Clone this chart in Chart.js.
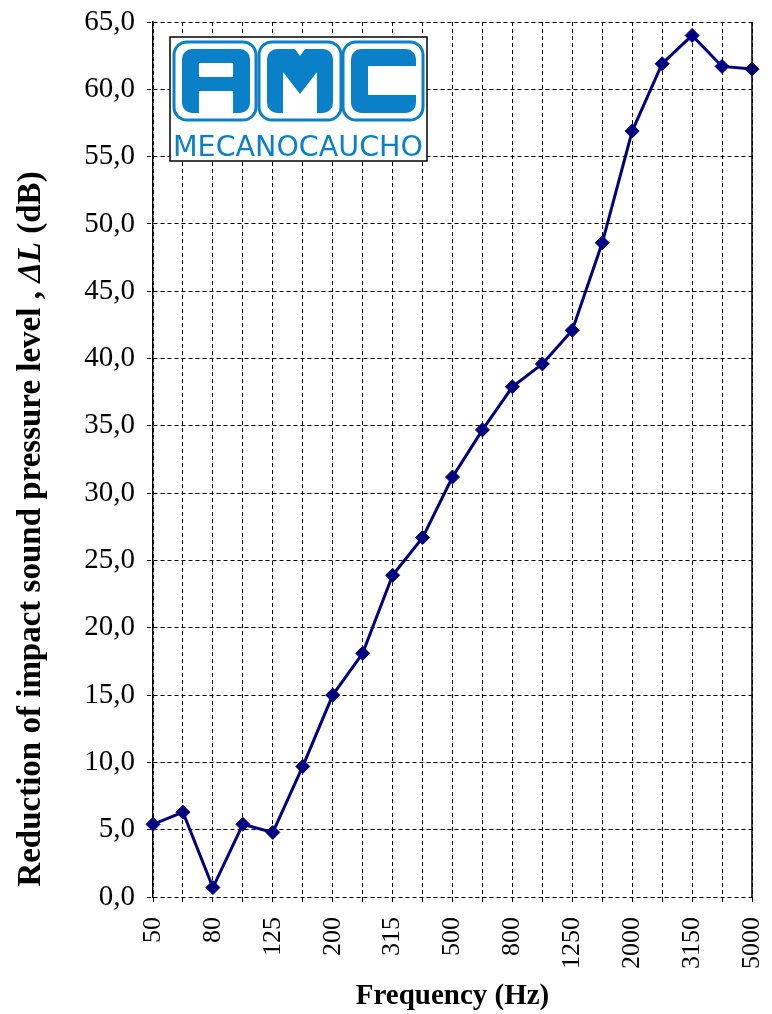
<!DOCTYPE html>
<html>
<head>
<meta charset="utf-8">
<script src="https://cdn.jsdelivr.net/npm/chart.js@4.4.1/dist/chart.umd.min.js"></script>
<style>
	body { margin: 0; background: #fff; }
	canvas { display: block; }
</style>
</head>
<body>
<canvas id="myChart" width="772" height="1014"></canvas>
<script>
// third-octave bands (Hz)
const FREQS = ["50", "63", "80", "100", "125", "160", "200", "250", "315", "400", "500",
	"630", "800", "1000", "1250", "1600", "2000", "2500", "3150", "4000", "5000"];
// reduction of impact sound pressure level, dB
const DELTA_L = [5.4, 6.3, 0.7, 5.4, 4.8, 9.7, 15.0, 18.1, 23.9, 26.7, 31.2,
	34.7, 37.9, 39.6, 42.1, 48.6, 56.9, 61.9, 64.0, 61.7, 61.5];
const Y_MIN = 0;
const Y_MAX = 65;
const Y_STEP = 5;

const SERIF = "'Liberation Serif', 'Times New Roman', serif";
const NAVY = "#000080";
const LOGO_BLUE = "#0a80c8";

function roundRect(ctx, x, y, w, h, r) {
	ctx.beginPath();
	ctx.moveTo(x + r, y);
	ctx.arcTo(x + w, y, x + w, y + h, r);
	ctx.arcTo(x + w, y + h, x, y + h, r);
	ctx.arcTo(x, y + h, x, y, r);
	ctx.arcTo(x, y, x + w, y, r);
	ctx.closePath();
}

// logo, y title with italic part, solid right frame
const decorPlugin = {
	id: "decor",
	afterDraw(chart) {
		const ctx = chart.ctx;
		const area = chart.chartArea;
		ctx.save();

		// right frame
		ctx.strokeStyle = "#000";
		ctx.lineWidth = 1.5;
		ctx.beginPath();
		ctx.moveTo(area.right, area.top);
		ctx.lineTo(area.right, area.bottom);
		ctx.stroke();

		// logo
		const lx = 170, ly = 37;
		ctx.fillStyle = "#fff";
		ctx.fillRect(lx, ly, 257, 124);
		ctx.strokeStyle = "#000";
		ctx.lineWidth = 1.5;
		ctx.strokeRect(lx, ly, 257, 124);

		ctx.strokeStyle = LOGO_BLUE;
		ctx.lineWidth = 3;
		[[174, 42, 82, 78], [259, 42, 82, 78], [343, 42, 80, 78]].forEach(b => {
			roundRect(ctx, b[0], b[1], b[2], b[3], 13);
			ctx.stroke();
		});

		ctx.fillStyle = LOGO_BLUE;
		roundRect(ctx, 182, 49, 68, 64, 10); // A
		ctx.fill();
		roundRect(ctx, 267, 49, 66, 64, 10); // M
		ctx.fill();
		roundRect(ctx, 351, 49, 65, 64, 10); // C
		ctx.fill();

		ctx.fillStyle = "#fff";
		ctx.fillRect(199, 63, 34, 14);
		ctx.fillRect(199, 91, 34, 22);
		ctx.beginPath();
		ctx.moveTo(283, 113);
		ctx.lineTo(283, 72);
		ctx.lineTo(300, 94);
		ctx.lineTo(317, 72);
		ctx.lineTo(317, 113);
		ctx.closePath();
		ctx.fill();
		ctx.beginPath();
		ctx.moveTo(295, 49);
		ctx.lineTo(305, 49);
		ctx.lineTo(300, 56);
		ctx.closePath();
		ctx.fill();
		ctx.fillRect(368, 66, 48, 29);

		ctx.fillStyle = LOGO_BLUE;
		ctx.font = "30px 'DejaVu Sans', sans-serif";
		ctx.textBaseline = "middle";
		ctx.textAlign = "left";
		const word = "MECANOCAUCHO";
		const ww = ctx.measureText(word).width;
		ctx.save();
		ctx.translate(173, 149);
		ctx.scale(250 / ww, 0.95);
		ctx.fillText(word, 0, 0);
		ctx.restore();

		// y axis title
		const parts = [
			["bold", "Reduction of impact sound pressure level , "],
			["italic bold", "ΔL"],
			["bold", " (dB)"],
		];
		ctx.fillStyle = "#000";
		ctx.textBaseline = "middle";
		let total = 0;
		parts.forEach(p => {
			ctx.font = p[0] + " 33px " + SERIF;
			total += ctx.measureText(p[1]).width;
		});
		ctx.translate(31, 529);
		ctx.rotate(-Math.PI / 2);
		let x = -total / 2;
		parts.forEach(p => {
			ctx.font = p[0] + " 33px " + SERIF;
			ctx.fillText(p[1], x, 0);
			x += ctx.measureText(p[1]).width;
		});
		ctx.restore();
	},
};

function drawChart() {
	const ctx = document.getElementById("myChart");
	new Chart(ctx, {
		type: "line",
		data: {
			labels: FREQS,
			datasets: [
				{
					data: DELTA_L,
					borderColor: NAVY,
					backgroundColor: NAVY,
					borderWidth: 3,
					pointStyle: "rectRot",
					pointRadius: 7,
					pointBorderWidth: 1,
					tension: 0,
					clip: false,
				},
			],
		},
		options: {
			responsive: false,
			devicePixelRatio: 1,
			animation: false,
			layout: {
				padding: { top: 22, right: 20, left: 0, bottom: 0 },
			},
			plugins: {
				legend: { display: false },
				tooltip: { enabled: false },
			},
			scales: {
				x: {
					afterFit(scale) {
						scale.height = 117;
						scale.paddingLeft = 0;
						scale.paddingRight = 0;
					},
					grid: {
						color: "#000",
						lineWidth: 1,
						tickLength: 5,
					},
					border: { display: false, dash: [4, 3] },
					ticks: {
						autoSkip: false,
						maxRotation: 90,
						minRotation: 90,
						padding: 15,
						color: "#000",
						font: { family: SERIF, size: 26 },
						callback: function (val, i) {
							return i % 2 === 0 ? FREQS[i] : "";
						},
					},
					title: {
						display: true,
						text: "Frequency (Hz)",
						color: "#000",
						font: { family: SERIF, size: 29, weight: "bold" },
						padding: { top: 0, bottom: 0 },
					},
				},
				y: {
					min: Y_MIN,
					max: Y_MAX,
					afterFit(scale) {
						scale.width = 153;
						scale.paddingTop = 0;
						scale.paddingBottom = 0;
					},
					grid: {
						color: "#000",
						lineWidth: 1,
						tickLength: 6,
						tickBorderDash: [4, 3],
					},
					border: { display: true, color: "#000", width: 1.5, dash: [4, 3] },
					ticks: {
						stepSize: Y_STEP,
						padding: 12,
						color: "#000",
						font: { family: SERIF, size: 29 },
						callback: function (v) {
							return v.toFixed(1).replace(".", ",");
						},
					},
				},
			},
		},
		plugins: [decorPlugin],
	});
}

drawChart();
</script>
</body>
</html>
